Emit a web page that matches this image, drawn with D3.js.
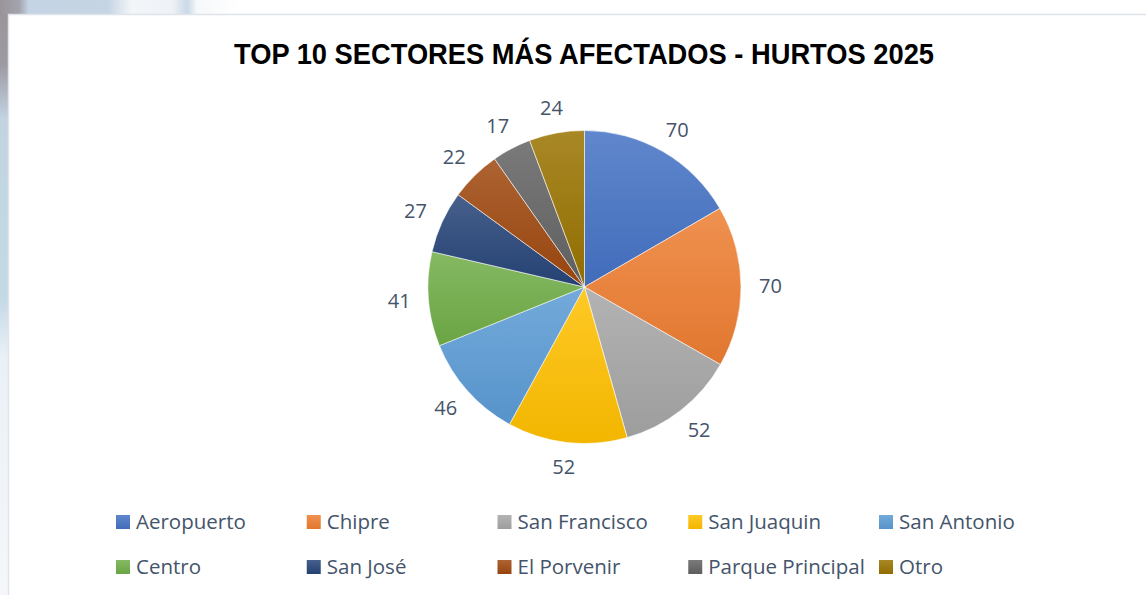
<!DOCTYPE html>
<html>
<head>
<meta charset="utf-8" />
<script src="https://d3js.org/d3.v7.min.js"></script>
<style>
  body { margin: 0; background: #fff; overflow: hidden; }
  svg { display: block; }
</style>
</head>
<body>
<div id="chart"></div>
<script>
// data
var sectors = ["Aeropuerto", "Chipre", "San Francisco", "San Juaquin", "San Antonio",
               "Centro", "San José", "El Porvenir", "Parque Principal", "Otro"];
var hurtos = [70, 70, 52, 52, 46, 41, 27, 22, 17, 24];
var palette = ["#4472C4", "#ED7D31", "#A5A5A5", "#FFC000", "#5B9BD5",
               "#70AD47", "#264478", "#9E480E", "#636363", "#997300"];
var title = "TOP 10 SECTORES MÁS AFECTADOS - HURTOS 2025";

var W = 1146, H = 595;
var cx = 584.5, cy = 287, radius = 156.5, labelGap = 18;

var svg = d3.select("#chart").append("svg")
    .attr("width", W)
    .attr("height", H);

var defs = svg.append("defs");

// slide background peeking out behind the chart frame
var gLeft = defs.append("linearGradient").attr("id", "bgLeft")
    .attr("x1", 0).attr("y1", 0).attr("x2", 0).attr("y2", 1);
[[0, "#9a9499"], [0.11, "#9e9aa2"], [0.2, "#c2d4e2"], [0.5, "#c4d8e6"],
 [0.6, "#eaf1f6"], [1, "#f5f7fa"]].forEach(function(s) {
  gLeft.append("stop").attr("offset", s[0]).attr("stop-color", s[1]);
});
var gTop = defs.append("linearGradient").attr("id", "bgTop")
    .attr("x1", 0).attr("y1", 0).attr("x2", 1).attr("y2", 0);
[[0, "#9a9499"], [0.08, "#a4a4ae"], [0.12, "#c4d4e4"], [0.45, "#c6d5e4"],
 [0.55, "#f3f6f9"], [0.72, "#eef2f6"], [0.78, "#c9d8e7"], [0.82, "#f6f8fb"], [1, "#ffffff"]]
 .forEach(function(s) {
  gTop.append("stop").attr("offset", s[0]).attr("stop-color", s[1]);
});

svg.append("rect").attr("x", 0).attr("y", 0).attr("width", 9).attr("height", H)
    .attr("fill", "url(#bgLeft)");
svg.append("rect").attr("x", 0).attr("y", 0).attr("width", 240).attr("height", 14)
    .attr("fill", "url(#bgTop)");

// chart frame
svg.append("rect")
    .attr("x", 8.5).attr("y", 14.5)
    .attr("width", W).attr("height", H)
    .attr("fill", "#fff")
    .attr("stroke", "#dfe3ea")
    .attr("stroke-width", 1.5);

// gradients per colour: lighter on top, base colour at the bottom
palette.forEach(function(c, i) {
  var g = defs.append("linearGradient").attr("id", "grad" + i)
      .attr("x1", 0).attr("y1", 0).attr("x2", 0).attr("y2", 1);
  g.append("stop").attr("offset", 0).attr("stop-color", d3.interpolateRgb(c, "#fff")(0.15));
  g.append("stop").attr("offset", 1).attr("stop-color", d3.interpolateRgb(c, "#000")(0.05));
});

// title
svg.append("text")
    .attr("x", 584)
    .attr("y", 64)
    .attr("text-anchor", "middle")
    .attr("textLength", 700)
    .attr("lengthAdjust", "spacingAndGlyphs")
    .style("font-family", "'Liberation Sans', Arial, sans-serif")
    .style("font-weight", "bold")
    .style("font-size", "30px")
    .style("fill", "#000")
    .text(title);

// pie
var pie = d3.pie().sort(null).value(function(d) { return d; });
var arcs = pie(hurtos);
var arc = d3.arc().innerRadius(0).outerRadius(radius);
var labelArc = d3.arc().innerRadius(radius + labelGap).outerRadius(radius + labelGap);

var gPie = svg.append("g").attr("transform", "translate(" + cx + "," + cy + ")");

gPie.selectAll("path.slice")
  .data(arcs)
  .enter().append("path")
    .attr("class", "slice")
    .attr("d", arc)
    .attr("fill", function(d, i) { return "url(#grad" + i + ")"; })
    .attr("stroke", "#ffffff")
    .attr("stroke-opacity", 0.7)
    .attr("stroke-width", 0.8);

// outside-end labels: the box is pushed out so it sits beyond the edge
gPie.selectAll("text.lbl")
  .data(arcs)
  .enter().append("text")
    .attr("class", "lbl")
    .attr("text-anchor", "middle")
    .attr("dy", "0.35em")
    .style("font-family", "'Open Sans', sans-serif")
    .style("font-size", "20px")
    .style("fill", "#44546A")
    .text(function(d) { return d.data; })
    .attr("transform", function(d) {
      var p = labelArc.centroid(d);
      var a = (d.startAngle + d.endAngle) / 2;
      var hw = this.getComputedTextLength() / 2, hh = 7;
      return "translate(" + (p[0] + Math.sin(a) * hw) + "," + (p[1] - Math.cos(a) * hh) + ")";
    });

// legend, 5 columns x 2 rows
var legX = d3.scalePoint().domain(d3.range(5)).range([116, 879]);
var legY = d3.scalePoint().domain([0, 1]).range([522, 567]);

var legend = svg.append("g").selectAll("g")
  .data(sectors)
  .enter().append("g")
    .attr("transform", function(d, i) {
      return "translate(" + legX(i % 5) + "," + legY(Math.floor(i / 5)) + ")";
    });

legend.append("rect")
    .attr("x", 0).attr("y", -7)
    .attr("width", 14).attr("height", 14)
    .attr("fill", function(d, i) { return "url(#grad" + i + ")"; });

legend.append("text")
    .attr("x", 20)
    .attr("dy", "0.35em")
    .style("font-family", "'Open Sans', sans-serif")
    .style("font-size", "20.5px")
    .style("fill", "#44546A")
    .text(function(d) { return d; });
</script>
</body>
</html>
